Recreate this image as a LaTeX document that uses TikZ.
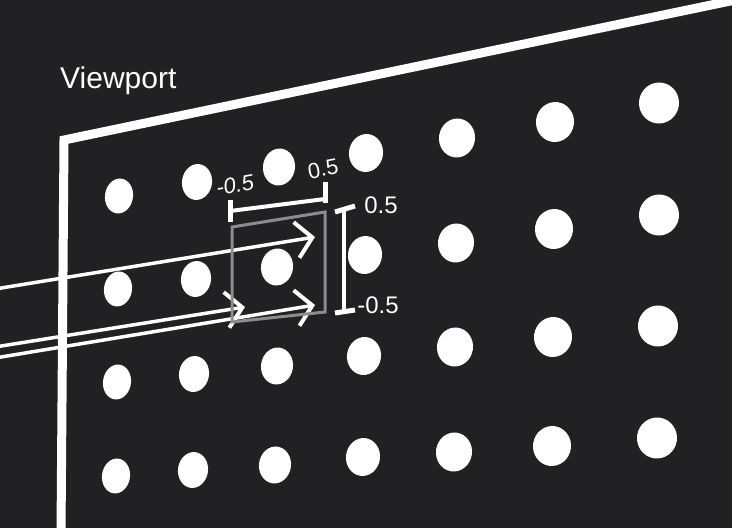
\documentclass[tikz,border=0pt]{standalone}
\usepackage{fontspec}
\setmainfont{Liberation Sans}
\usetikzlibrary{arrows.meta,shapes.geometric,calc}
\definecolor{bg}{HTML}{212123}
\definecolor{boxgray}{HTML}{8C8C8C}
\tikzset{
  dot/.style={ellipse, fill=white, draw=none, inner sep=0pt, rotate=-8},
  frameline/.style={white, line width=9pt, line join=miter},
  dimbar/.style={white, line width=4pt},
  dimtick/.style={white, line width=5pt},
  ray/.style={white, line width=3.5pt, -{Straight Barb[length=16pt,width=36pt,line width=4pt]}},
  lbl/.style={text=white, font=\fontsize{24pt}{27pt}\selectfont, inner sep=0pt},
}
\begin{document}
\begin{tikzpicture}[x=1pt,y=-1pt]
\fill[bg] (0,0) rectangle (732,528);
\useasboundingbox (0,0) rectangle (732,528);
% viewport frame
\coordinate (fbl) at (61,534);
\coordinate (ftl) at (64,140);
\coordinate (ftr) at (740,-1);
\draw[frameline] (fbl) -- (ftl) -- (ftr);
\node[text=white, font=\fontsize{30pt}{33pt}\selectfont, anchor=base west, inner sep=0pt] (title) at (60,88) {Viewport};
% dots
\foreach \r/\row in {1/{119/196,197/182,279/167,366/153,457/138,555/122,659/103},
                     2/{118/289,196/279,277/267,365/255,456/243,554/229,659/215},
                     3/{117/382,194/374,277/366,364/356,455/347,553/337,658/326},
                     4/{116/476,193/470,275/465,363/457,454/452,552/446,657/438}}{
  \foreach \cx/\cy [count=\c] in \row {
    \pgfmathsetmacro{\w}{26+2*\c}
    \pgfmathsetmacro{\h}{34+\c}
    \node[dot, minimum width=\w pt, minimum height=\h pt] (d-\r-\c) at (\cx,\cy) {};
  }
}
% rays
\coordinate (r1s) at (-5,289);
\coordinate (r1e) at (315,237);
\coordinate (r2s) at (-5,347);
\coordinate (r2e) at (245,307);
\coordinate (r3s) at (-5,358);
\coordinate (r3e) at (315,305);
\draw[ray] (r1s) -- (r1e);
\draw[ray] (r2s) -- (r2e);
\draw[ray] (r3s) -- (r3e);
% pixel square
\coordinate (sq1) at (232,227);
\coordinate (sq2) at (325,212);
\coordinate (sq3) at (325,312);
\coordinate (sq4) at (232,322);
\draw[boxgray, line width=3pt, line join=miter] (sq1) -- (sq2) -- (sq3) -- (sq4) -- cycle;
% horizontal dimension
\coordinate (hl) at (230,211);
\coordinate (hr) at (325,199);
\draw[dimbar] (hl) -- (hr);
\draw[dimtick] ($(hl)+(0,-11)$) -- ($(hl)+(0,11)$);
\draw[dimtick] ($(hr)+(0,-17)$) -- ($(hr)+(0,4)$);
\node[lbl, rotate=10, font=\fontsize{22pt}{25pt}\selectfont\itshape] (hminus) at (235,185) {-0.5};
\node[lbl, rotate=10, font=\fontsize{22pt}{25pt}\selectfont] (hplus) at (323,169) {0.5};
% vertical dimension
\coordinate (vt) at (344,207);
\coordinate (vb) at (344,311);
\draw[dimbar] (vt) -- (vb);
\draw[dimtick] (335,212) -- (355,206);
\draw[dimtick] (335,313) -- (355,310);
\node[lbl] (vplus) at (381,205) {0.5};
\node[lbl] (vminus) at (378,305) {-0.5};
\end{tikzpicture}
\end{document}
